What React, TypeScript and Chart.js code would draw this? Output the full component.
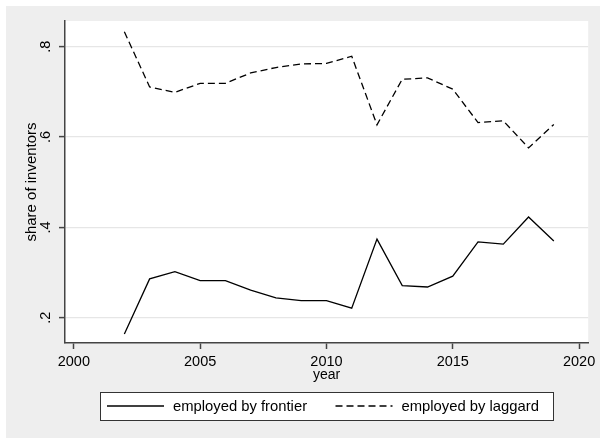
import React, { useEffect, useRef } from "react";
import { Chart, registerables } from "chart.js";

Chart.register(...registerables);

// Share of inventors by employer type, per year
const years = [2002, 2003, 2004, 2005, 2006, 2007, 2008, 2009, 2010, 2011, 2012, 2013, 2014, 2015, 2016, 2017, 2018, 2019];
const frontierShare = [0.164, 0.286, 0.302, 0.282, 0.282, 0.261, 0.244, 0.238, 0.238, 0.221, 0.374, 0.271, 0.268, 0.292, 0.368, 0.363, 0.423, 0.370];
const laggardShare = [0.833, 0.711, 0.699, 0.719, 0.719, 0.742, 0.754, 0.762, 0.763, 0.779, 0.627, 0.728, 0.731, 0.706, 0.632, 0.636, 0.576, 0.628];

const seriesLabels = ["employed by frontier", "employed by laggard"];

const xTicks = [2000, 2005, 2010, 2015, 2020];
const yTicks = [0.2, 0.4, 0.6, 0.8];
const yTickLabels = [".2", ".4", ".6", ".8"];

const FONT = "'Liberation Sans', Arial, Helvetica, sans-serif";
const OUTER_GRAY = "#eeeeee";
const AXIS_COLOR = "#444444";
const GRID_COLOR = "#e6e6e6";

// Paints the page frame: thin white edge, gray graph region, white plot region
const backgroundPlugin = {
  id: "graphBackground",
  beforeDraw(chart: any) {
    const { ctx, width, height, chartArea } = chart;
    ctx.save();
    ctx.fillStyle = "#ffffff";
    ctx.fillRect(0, 0, width, height);
    ctx.fillStyle = OUTER_GRAY;
    ctx.fillRect(6, 6, width - 6, height - 6);
    ctx.fillStyle = "#ffffff";
    ctx.fillRect(chartArea.left, chartArea.top, chartArea.right - chartArea.left, chartArea.bottom - chartArea.top);
    ctx.restore();
  },
};

// Boxed legend below the x-axis title
const boxedLegendPlugin = {
  id: "boxedLegend",
  afterDraw(chart: any) {
    const { ctx, chartArea } = chart;
    const boxW = 453;
    const boxH = 28;
    const cx = (chartArea.left + chartArea.right) / 2;
    const left = Math.round(cx - boxW / 2) + 0.5;
    const top = 392.5;
    ctx.save();
    ctx.fillStyle = "#ffffff";
    ctx.fillRect(left, top, boxW, boxH);
    ctx.strokeStyle = "#333333";
    ctx.lineWidth = 1;
    ctx.setLineDash([]);
    ctx.strokeRect(left, top, boxW, boxH);

    const itemOffsets = [6.5, 235];
    const sampleLen = 57;
    const midY = top + boxH / 2 - 0.5;
    chart.data.datasets.forEach((ds: any, i: number) => {
      const x0 = left + itemOffsets[i];
      ctx.beginPath();
      ctx.strokeStyle = ds.borderColor;
      ctx.lineWidth = ds.borderWidth;
      ctx.setLineDash(ds.borderDash || []);
      ctx.moveTo(x0, midY);
      ctx.lineTo(x0 + sampleLen, midY);
      ctx.stroke();
      ctx.setLineDash([]);
      ctx.fillStyle = "#000000";
      ctx.font = `14.8px ${FONT}`;
      ctx.textAlign = "left";
      ctx.textBaseline = "middle";
      ctx.fillText(ds.label, x0 + sampleLen + 9, midY + 0.5);
    });
    ctx.restore();
  },
};

export default function App() {
  const canvasRef = useRef<HTMLCanvasElement | null>(null);

  useEffect(() => {
    document.body.style.margin = "0";
    const canvas = canvasRef.current;
    if (!canvas) return;

    const chart = new Chart(canvas, {
      type: "line",
      data: {
        datasets: [
          {
            label: seriesLabels[0],
            data: years.map((y, i) => ({ x: y, y: frontierShare[i] })),
            borderColor: "#000000",
            borderWidth: 1.3,
            pointRadius: 0,
            tension: 0,
            fill: false,
          },
          {
            label: seriesLabels[1],
            data: years.map((y, i) => ({ x: y, y: laggardShare[i] })),
            borderColor: "#000000",
            borderWidth: 1.3,
            borderDash: [7, 4],
            pointRadius: 0,
            tension: 0,
            fill: false,
          },
        ],
      },
      options: {
        animation: false,
        responsive: false,
        events: [],
        layout: { padding: { left: 0, top: 21, right: 11, bottom: 50 } },
        plugins: {
          legend: { display: false },
          tooltip: { enabled: false },
        },
        scales: {
          x: {
            type: "linear",
            min: 1999.65,
            max: 2020.36,
            afterBuildTicks: (scale: any) => {
              scale.ticks = xTicks.map((value) => ({ value }));
            },
            afterFit: (scale: any) => {
              scale.height = 45;
            },
            border: { display: true, color: AXIS_COLOR, width: 1.5 },
            grid: {
              drawOnChartArea: false,
              drawTicks: true,
              tickLength: 6,
              tickColor: AXIS_COLOR,
              tickWidth: 1.5,
            },
            ticks: {
              autoSkip: false,
              maxRotation: 0,
              padding: 4.6,
              color: "#000000",
              font: { family: FONT, size: 14.5 },
              callback: (v: any) => String(v),
            },
            title: {
              display: true,
              text: "year",
              color: "#000000",
              font: { family: FONT, size: 14 },
              padding: { top: 0, bottom: 4 },
            },
          },
          y: {
            type: "linear",
            min: 0.144,
            max: 0.857,
            afterBuildTicks: (scale: any) => {
              scale.ticks = yTicks.map((value) => ({ value }));
            },
            afterFit: (scale: any) => {
              scale.width = 65;
            },
            border: { display: true, color: AXIS_COLOR, width: 1.5 },
            grid: {
              color: GRID_COLOR,
              lineWidth: 1.2,
              drawTicks: true,
              tickLength: 6,
              tickColor: AXIS_COLOR,
              tickWidth: 1.5,
            },
            ticks: {
              autoSkip: false,
              minRotation: 90,
              maxRotation: 90,
              crossAlign: "center",
              padding: 7,
              color: "#000000",
              font: { family: FONT, size: 14.5 },
              callback: (v: any) => {
                const idx = yTicks.findIndex((t) => Math.abs(t - v) < 1e-9);
                return idx >= 0 ? yTickLabels[idx] : "";
              },
            },
            title: {
              display: true,
              text: "share of inventors",
              color: "#000000",
              font: { family: FONT, size: 15 },
              padding: { top: 23, bottom: 0 },
            },
          },
        },
      },
      plugins: [backgroundPlugin, boxedLegendPlugin],
    } as any);

    return () => chart.destroy();
  }, []);

  return (
    <div style={{ position: "absolute", left: 0, top: 0, width: 600, height: 438 }}>
      <canvas ref={canvasRef} width={600} height={438} style={{ display: "block" }} />
    </div>
  );
}
